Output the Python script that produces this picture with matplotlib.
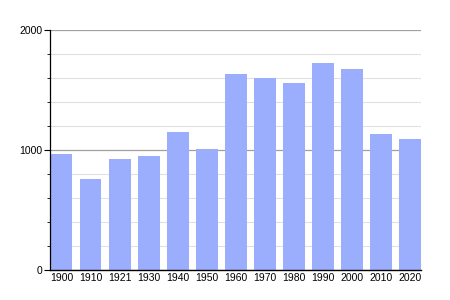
import matplotlib
matplotlib.use("Agg")
import matplotlib.pyplot as plt
from matplotlib.ticker import MultipleLocator

# population by census year
years = ["1900", "1910", "1921", "1930", "1940", "1950", "1960",
         "1970", "1980", "1990", "2000", "2010", "2020"]
population = [970, 760, 925, 950, 1150, 1010, 1635,
              1600, 1560, 1727, 1677, 1136, 1094]

plt.rcParams['font.family'] = ['Liberation Sans', 'DejaVu Sans']

fig = plt.figure(figsize=(4.5, 3), dpi=100)
ax = fig.add_axes([0.112, 0.1, 0.823, 0.8])

x = list(range(len(years)))
ax.bar(x, population, width=0.74, color="#9aaefd", zorder=2)

ax.set_ylim(0, 2000)
ax.set_xlim(-0.39, len(years) - 1 + 0.37)
ax.yaxis.set_major_locator(MultipleLocator(1000))
ax.yaxis.set_minor_locator(MultipleLocator(200))
ax.grid(axis="y", which="minor", color="#e0e0e0", linewidth=0.8, zorder=0)
ax.grid(axis="y", which="major", color="#a0a0a0", linewidth=0.9, zorder=0)

ax.set_xticks(x)
ax.set_xticklabels(years)
ax.tick_params(axis="x", length=0, pad=2, labelsize=7.5)
ax.tick_params(axis="y", which="major", length=4, labelsize=7.5, pad=2)
ax.tick_params(axis="y", which="minor", length=2)

for s in ["top", "right"]:
    ax.spines[s].set_visible(False)
ax.spines["left"].set_linewidth(0.9)
ax.spines["bottom"].set_linewidth(1.0)

fig.savefig("out.png", dpi=100)
